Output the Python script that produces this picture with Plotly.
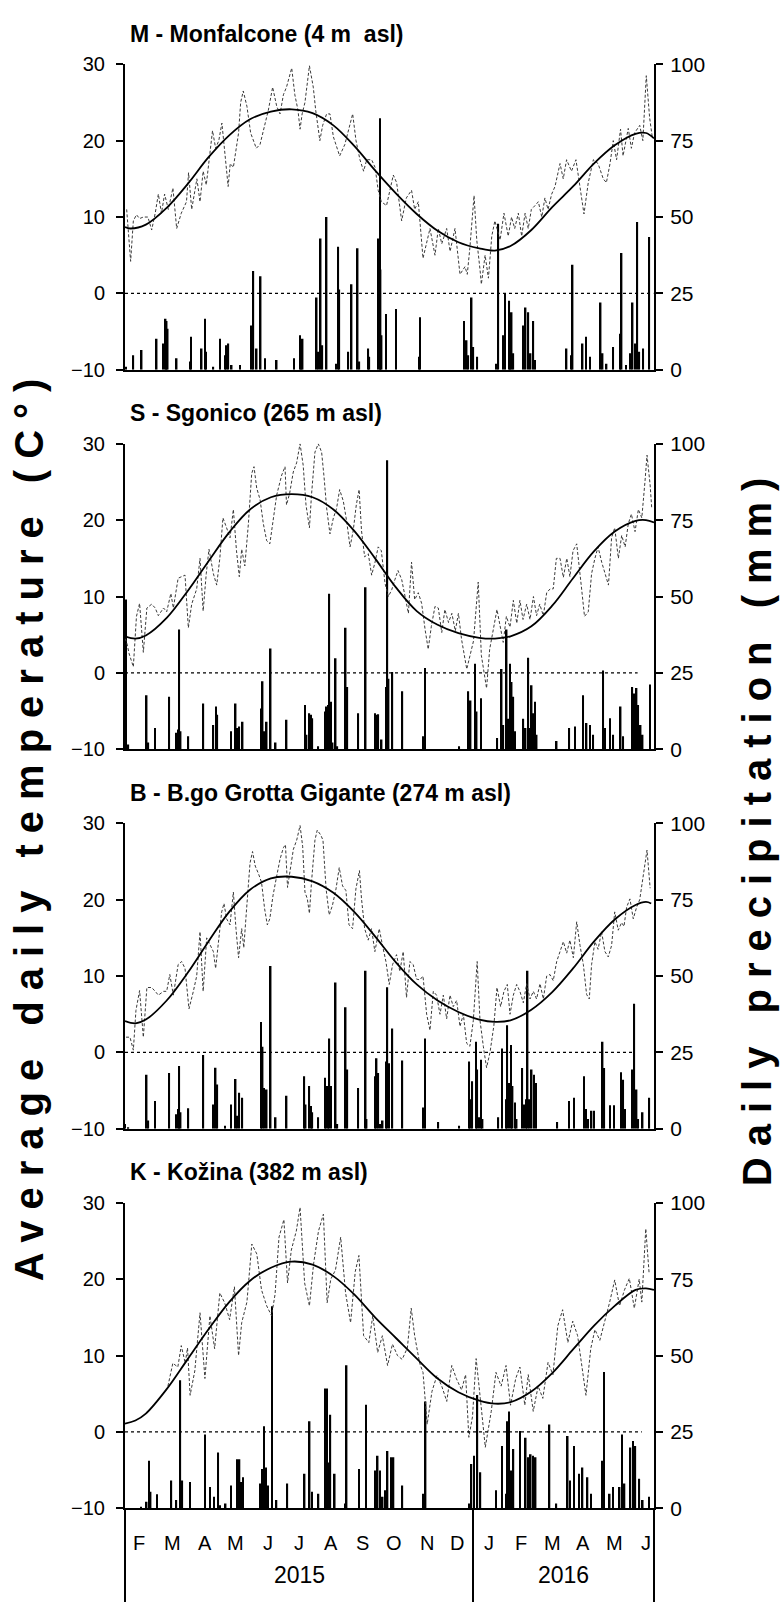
import plotly.graph_objects as go

W, H = 780, 1613
FONT = "Liberation Sans, Arial, sans-serif"

# x values = days since 2015-02-01
X_END = 507.7
JAN1_2016 = 334

MONTH_LABELS = ["F", "M", "A", "M", "J", "J", "A", "S", "O", "N", "D", "J", "F", "M", "A", "M", "J"]
MONTH_POS = [13, 46, 77, 106, 137, 167, 198, 228, 258, 290, 319, 349, 380, 410, 440, 470, 500]
YEAR_LABELS = ["2015", "2016"]
YEAR_POS = [167, 421]

TITLES = ["M - Monfalcone (4 m  asl)", "S - Sgonico (265 m asl)",
          "B - B.go Grotta Gigante (274 m asl)", "K - Kožina (382 m asl)"]

TEMP_TICKS = [-10, 0, 10, 20, 30]
PREC_TICKS = [0, 25, 50, 75, 100]

# ---------------- Monfalcone ----------------
M_TEMP = [(1.6,11),(5.4,4.2),(8,9.5),(11,10.3),(14,9.8),(17.6,10),(22,10),(25.6,8.3),(29,10.5),(32,13),(35,10.5),(38,13),
          (41.6,11),(46,13.8),(49.6,8.5),(54,10.5),(59,12),(61,15.8),(64,11),(69,15),(72,12),(75,16),(78,14.2),(82,19),
          (84,21.3),(87,19),(90,20),(93,22.3),(96,18),(99,14),(101,17),(104,16.5),(109,21),(111,25),(113.5,26.5),(117,24.5),
          (120.6,21),(126,19),(129.6,19.5),(133,21.5),(137.6,24),(141.7,27),(145.6,24.5),(148.8,23.5),(152,26),(155,27),
          (160,29.5),(163,26),(166,24),(168,21.5),(170,23.5),(172.7,25),(177,29.8),(180.7,27),(183,24),(187,20),(189.7,22),
          (193.5,23.5),(196.7,23.5),(200,20.5),(206,18),(211,19.5),(214,21),(218.5,23.5),(221.7,20),(225.5,17.5),(229,16),
          (232,17.5),(236.7,17.5),(240,16.5),(243,13.5),(246,12),(251,11.5),(257.5,15.5),(260.7,14.5),(265.5,9.5),(270,12.5),
          (275,13.5),(278,11),(281.5,12),(286,4.6),(292.7,8.5),(297.5,5),(300.7,8.5),(304,6.5),(308.7,8.5),(312,5.5),
          (316.7,8.5),(321.5,2.5),(326.3,3.5),(328.5,2.5),(331,6),(335,12.8),(337.6,7),(340.8,3),(342,1.2),(345.6,5),
          (348.8,2),(352,7.5),(355,9.5),(360,7),(363.7,10.5),(367.8,7.5),(371,10),(374,8.5),(377.5,10.5),(380.7,7.5),
          (384,10.5),(387,8.5),(390,11),(393.5,11.5),(396.7,12),(400,10),(403,12.5),(406,11),(409.5,13),(412.7,14),
          (417.5,17),(420.6,15),(423.8,17.5),(428.5,16),(432.8,17.5),(436.6,14),(440.5,10.4),(444.6,14.5),(449.5,17.5),
          (454,17),(459,15),(462,14.5),(465.5,17),(468.6,20),(471.8,17.5),(475.6,21.5),(478,18),(483,21.6),(486,19),
          (489,21),(494,22),(497,20),(500.3,28.5),(503.5,23),(506,20.5)]
M_FIT = [(0,8.7),(5,8.5),(20,9.0),(40,11.2),(60,14.3),(80,17.8),(100,20.7),(120,22.8),(140,23.8),(160,24.1),(180,23.6),
         (200,22.0),(220,19.3),(240,16.1),(260,13.1),(280,10.4),(300,8.2),(320,6.7),(340,5.9),(355,5.6),(370,6.2),
         (390,8.3),(410,11.3),(430,14.0),(450,17.0),(470,19.4),(490,20.9),(500,21.0),(507.7,20.3)]
M_PREC = [(1,1),(8,4.8),(16,6.5),(30.4,10.2),(36.8,8.6),(39,16.7),(40,16),(41,13.4),(49.6,3.8),(62.4,2.7),(63.3,10.8),
          (73.6,7),(76.8,16.7),(77.7,5.9),(84.8,1),(91.2,10.2),(96,4.8),(97.6,8),(99.2,8.6),(102.4,1.6),(110.4,1.6),
          (121.6,14.5),(123.2,32.3),(126.4,7),(130.2,30.6),(134.4,3.8),(145.6,3.2),(162.2,3.8),(168,11.3),(169.5,4.8),
          (170.5,10.2),(184,23.7),(185.5,5.9),(187.8,43),(189.4,8),(193.5,50),(202.5,2),(204.7,40.3),(205.7,26.3),
          (214.3,5.9),(217.5,28),(223.3,39.8),(224.9,2.7),(233.5,7),(234.5,4.3),(243.1,43),(244.7,82.3),(245.3,32.8),
          (246.3,11.3),(250.5,18.3),(260.1,19.9),(282.5,4.3),(283.1,17.2),(325.3,16),(327.9,9.7),(329.5,4.8),(332.7,23.7),
          (334.3,7.5),(338.1,4.3),(356.7,2),(358.3,47.8),(363.1,11.3),(364.7,25),(368.8,22.6),(370.1,8.6),(371.1,18.8),
          (372.7,5.4),(382.3,14.5),(384.5,20.4),(387.1,18.8),(389.3,5.4),(391.9,16),(393.5,3.2),(423.8,7),(428.6,4.8),
          (429.6,34.4),(439.2,8.6),(442.4,10.8),(446.2,4.3),(456.5,22),(458.4,5.4),(462.2,2),(468.6,7.5),(475,11.8),
          (476.6,38.2),(480.8,1.6),(485.3,5.4),(487.2,22),(489.4,8.6),(491.7,48.4),(493.6,5.9),(497.4,7),(503.2,43.5)]

# ---------------- Sgonico ----------------
S_TEMP = [(0,4.5),(1.6,4),(4,2.5),(8,0.8),(11,7.4),(14,9.1),(17.6,2.7),(21,8.5),(25.6,9),(29,8.5),(32,7.5),(37,8.5),(40,8),
          (44,10.4),(46.4,8.5),(51,12.4),(57.6,12.8),(60.8,5.9),(64,9),(68.8,11),(72,15),(75,8.1),(78,13),(80.6,16.2),
          (84.8,13),(88,11.5),(91,15),(94,20.3),(97.5,19),(100.8,17.7),(104,21.4),(107,16),(109.7,12.6),(112,16.2),(115,14),
          (118.4,19.5),(121.6,26.1),(123.8,27),(126.4,24.2),(129.6,22.7),(132.8,19.5),(136,17.3),(139,16.9),(142.4,20.3),
          (145.6,23.3),(150.4,25.9),(153.6,27),(155,22),(158,23.5),(161.5,26.3),(164.7,27.5),(168,30),(171,27.2),(173.7,22),
          (177,19),(179,23.3),(182.3,28.9),(185.5,30),(188.7,28.9),(191,25.7),(193.5,21.6),(196.7,18.2),(200,20.3),(203,21.5),
          (206,24),(209.5,22.5),(212.7,19.9),(216,16.5),(219,18.6),(222,22),(224.7,24),(227,18.6),(230,15.2),(233.5,15.6),
          (236.7,12.8),(240,14.5),(243,16.5),(246,16),(249.6,11.7),(252.8,10),(256,10.9),(259,12.2),(262,13.4),(265.6,12.2),
          (268.7,10),(272,7.8),(275,14.5),(278,9.6),(281.5,10.5),(284.7,9.1),(288,5.7),(291,3.1),(294,6.1),(297.5,8.7),
          (300.7,8.5),(304,5.3),(307,8.3),(310.5,6.6),(313.7,7.8),(317,5.5),(320,7.8),(323,4.4),(328,0.5),(331,2.3),
          (334.5,4.2),(339,11.9),(342,2.3),(347,-2),(350,3.1),(357,8.3),(360,6),(363,4),(366,7.4),(369.5,6),(372.7,9.5),
          (376,6.5),(379,9.5),(382,7),(385.5,9),(388.7,7),(392,10),(395,7.5),(398,9),(401.5,7.5),(404.7,10.5),(408,11),
          (411,11),(414,15),(417.5,15),(420.7,12.5),(424,15),(427,12.6),(430,16),(433.5,16.9),(438,11.3),(441,7.4),
          (444.6,8),(447.8,13),(451,15),(454,16.5),(457.5,14.5),(460.7,13),(464,11.5),(467,17.7),(470,19),(473.5,15),
          (476.7,18),(480,16.5),(483,19.5),(486,20.8),(489.5,18.5),(492.7,21.4),(496,20.3),(499,25),(501,28.5),(504,24.6),
          (505.5,21.6)]
S_FIT = [(0,4.8),(10,4.5),(20,4.9),(40,7.2),(60,10.7),(80,14.6),(100,18.4),(120,21.4),(140,23.0),(160,23.4),(180,23.0),
         (200,21.4),(220,18.6),(240,15.0),(260,11.2),(280,8.1),(300,6.3),(320,5.2),(340,4.6),(355,4.5),(370,4.8),
         (390,6.1),(410,8.8),(430,12.4),(450,15.9),(470,18.5),(490,19.9),(500,20.0),(507.7,19.7)]
S_PREC = [(1,49),(3.2,1.6),(20.8,17.7),(22.4,2.2),(28.8,7),(42.5,17.2),(48.9,5.4),(51.2,6.5),(52.1,39.2),(53.4,5.9),
          (60.8,4.3),(75.2,15),(84.8,8),(87.3,14),(88.6,11.3),(101.7,5.9),(106.2,15),(107.8,7),(109.7,7.5),(112.9,9),
          (130.5,13.4),(132.1,22.3),(133.4,5.9),(136,9),(139.8,33),(144.6,2.2),(155.1,9.7),(172.7,14.5),(174.3,4.8),
          (176.9,11.8),(178.5,11.3),(179.8,10.2),(185.5,1),(191.9,12.4),(193.5,14),(195.1,14.5),(196.1,50.9),(197.7,15.6),
          (199.3,2.2),(202.2,29.8),(203.8,1),(211.8,39.8),(213.4,20.4),(223.9,11.8),(231,53),(239.9,11.8),(241.5,11.3),
          (243.1,11.5),(246.3,3.2),(250.5,20.4),(251.8,94.6),(253,23.1),(256.6,25.3),(266.2,19),(286.3,4.3),(287.9,26.6),
          (320.8,1),(329.5,19),(331.2,8.6),(331.7,16),(335.8,28),(337.5,12.4),(341.6,16.7),(357.3,3.7),(361.5,26.3),
          (363.1,8),(366.3,39.2),(367.9,10),(369.5,28),(371.1,22),(372.7,17.2),(374.3,5.9),(382.3,10),(384.5,7),(387.1,30),
          (388.7,7),(390.3,21),(391.9,11.8),(393.5,15.6),(395.1,4.8),(414.3,2.7),(426.4,7),(431.8,7.5),(439.8,17.7),
          (443,8.6),(446.2,8),(449.4,4.8),(459,25.8),(460.6,7),(465.4,10.2),(468.6,4.8),(475.7,14),(478.2,4.3),
          (486.9,20.4),(488.8,18.3),(491,20.1),(492.6,14.5),(494.9,8),(496.8,4.8),(503.8,21.2)]

# ---------------- Borgo Grotta Gigante ----------------
B_TEMP = [(1,2),(4.8,2),(8,0.3),(10.5,5.5),(14,8.1),(17.6,2),(21,8.5),(25.6,8.5),(29,8),(32,7.5),(37,8),(40,8),(43,10.2),
          (46.4,7.5),(51,11.5),(54.4,11.9),(57.6,11),(61.4,5.7),(65.6,8),(68.8,10),(72,15.8),(75,8),(78.4,15),(81.6,14.1),
          (84.8,13.2),(87,11),(89.6,14),(92.8,18.4),(95,19.5),(97.5,17.5),(100.8,16.7),(104,21),(106.5,16.2),(109,12.4),
          (112,16.2),(114,13.7),(116.7,18.8),(120,24.8),(122.4,26.3),(125,24.4),(127.8,23.5),(131,22.3),(134,18.8),
          (136.6,16.7),(139,17.5),(142,20.5),(145.6,23.1),(148.8,25.3),(152,26.8),(154,27.2),(156,21.6),(159,24.4),
          (161.6,26.6),(164.8,27.8),(168,29.7),(170.5,27),(172.7,21),(175,20.1),(177,18.2),(179,22.3),(182.3,27.8),
          (184.5,29.1),(187.7,28.5),(190,27.8),(193,21.4),(196,18),(199,19.2),(202.5,21.4),(205.6,24.2),(208.8,21.8),
          (212,21.2),(215,16.7),(218.4,16.2),(221.6,21.4),(225,23.8),(227,20.1),(230,16.2),(233.4,14.7),(236.6,16.2),
          (239.8,13.2),(244,16.2),(247,14.1),(250.4,11.9),(253.6,8.9),(256.8,11.5),(260.6,12.8),(263.8,10.6),(267,13.2),
          (270.2,7.2),(273.4,11.9),(276.6,11.5),(279.8,9.6),(283,9.5),(286,10),(289.5,5),(292.7,2.9),(295.9,8),(299,7.5),
          (302.3,5),(305.5,7.5),(308.7,4.4),(311.9,7.5),(315,6),(318.3,6.8),(321.5,3.4),(324.7,5),(327.9,1.2),(331,0.8),
          (334.3,4.2),(338,11.9),(340.7,4.2),(343.9,0.8),(347,-2),(350.3,0),(354,3.5),(357,8.5),(360.5,6),(363.7,8),
          (366.9,8.9),(369.5,5),(372.7,7.5),(375.9,8.9),(379,8),(382.3,6.5),(385.5,9),(388.7,7),(391.9,8),(395,7),
          (398.3,9),(401.5,7),(404.7,10),(407.9,10.2),(411,9.4),(414.3,11.9),(417.5,13.2),(420.7,14.5),(423.9,13),
          (427,14.7),(430.3,12.4),(433.5,17.1),(436.7,14),(439.9,11.5),(443,7.6),(445.6,7),(447.8,11.5),(451,14.5),
          (454,13.5),(457.4,15.8),(460.6,13.2),(463.8,12.5),(467,14),(470,18.4),(473.4,16),(476.6,17),(478.9,16.5),
          (481.4,19),(484.6,20.1),(487.8,17.5),(491,19),(494,20),(501,26.5),(504,21.5)]
B_FIT = [(0,4.1),(10,3.8),(20,4.3),(40,6.8),(60,10.4),(80,14.5),(100,18.4),(120,21.3),(140,22.8),(160,23.0),(180,22.4),
         (200,20.9),(220,18.4),(240,15.2),(260,11.8),(280,8.9),(300,6.8),(320,5.3),(340,4.3),(355,4.0),(370,4.2),
         (390,5.6),(410,7.9),(430,11.0),(450,14.5),(470,17.4),(490,19.3),(500,19.7),(505,19.5)]
B_PREC = [(0,1.6),(3.2,0.5),(20.8,17.7),(22.4,2.7),(28.8,9.1),(42.5,18.3),(48.9,4.8),(51.2,6.5),(52.1,20.6),(53.4,5.4),
          (60.8,6.7),(75.2,24.2),(84.8,8),(87,20),(88.6,14.5),(96,1),(101.7,8),(106.2,16.3),(107.8,4.3),(109.7,11.8),
          (112.6,10.2),(130.5,35),(132.1,26.9),(133.4,13.4),(136,12.9),(139.8,53.3),(144.6,3.8),(155.1,10.8),(172.1,17.2),
          (173.4,8),(176.9,14),(178.5,7.5),(179.8,5.4),(185.5,3.8),(191.9,16.7),(193.5,14),(195.1,14),(196.1,29.6),
          (197.7,14),(202.2,47.9),(203.8,1.6),(211.8,39.8),(213.4,19.4),(223.9,13.4),(231,51.7),(231.9,3.2),(239.9,17.2),
          (241.5,23.1),(243.1,18.3),(244.7,1.6),(247.3,2.7),(250.5,22),(251.8,46.3),(253.4,21.5),(256.6,32.8),(266.2,22.4),
          (286.3,7),(287.9,29.6),(300.7,2.2),(320.8,1),(330.4,22),(331.7,9.7),(333.3,15.6),(336.8,28.5),(338.1,19.4),
          (340,3.8),(341.6,22.6),(343.2,3.2),(358.3,3.8),(361.8,26.3),(365.6,9.7),(366.9,33.9),(368.8,15),(370.4,27.4),
          (372,14),(374.3,8.6),(375.9,3.2),(381.3,19.9),(383.2,8),(384.8,9.7),(386.4,51.7),(388,9.7),(390.3,19.4),
          (392.5,17.7),(394.4,15),(414.9,2.2),(426.1,9.1),(430.9,10.2),(440.5,17.2),(442.4,6.5),(444.6,3.2),(447.8,5.9),
          (450.1,5.9),(458.4,28.5),(460,19.9),(465.4,7.7),(469.3,7.7),(476,18.5),(478.2,16.1),(479.8,6.5),(486.9,19.4),
          (488.8,40.9),(491,12.9),(492.6,3.2),(496.8,5.4),(503.2,10.2)]

# ---------------- Kozina ----------------
K_TEMP = [(41.2,6),(45.9,9),(50.7,8.5),(54,11.3),(57.8,9),(60,11),(62.5,4.8),(67,8),(72,15.6),(76.7,7),(81.5,15.2),
          (86,10.9),(91,18.2),(95.7,16.9),(100.4,14.7),(105,19),(109,10),(112,14.3),(117,17),(121.7,24.6),(126.5,23.3),
          (131,18.6),(136,16.5),(140.7,15.2),(144,18),(147.8,25.5),(152.5,27.8),(156,19.5),(159.6,23.8),(164.4,26.3),
          (168,29.4),(172.4,19.5),(177,16.5),(181,22),(185.7,26.3),(190.4,28.5),(194,16.9),(197.5,20),(202,21.2),(207,25.5),
          (211.7,18.2),(216.5,14.3),(221,21),(224.5,23.1),(229,12.6),(234,11.7),(237.8,15.2),(242.5,10.4),(247,12.6),
          (252,8.7),(256.7,11.5),(261.5,10),(266,9.5),(271,11),(274.7,16.2),(278,12.6),(282.8,9),(286,7.8),(290,1),
          (294.6,5.3),(299.4,7.4),(304,6),(308.8,4),(313.6,8.7),(318,7),(323,5.5),(326.9,7.5),(330,-0.7),(333.5,2),(337,9.6),
          (341,4.4),(345.8,-2),(351.5,2.7),(356,7.8),(361,6),(365.7,8.7),(370,3.5),(375,7),(379,8.5),(383.7,3.5),(387,7.5),
          (391.8,2.7),(396.5,6),(401,4.4),(406,9.1),(410.7,7.5),(415.4,13.9),(420,16),(425,11.7),(429.7,14.5),(434.4,12.6),
          (439,7.8),(442.4,4.8),(447,10.9),(451,13.4),(455.7,12),(460.4,14.3),(465,16.9),(470,19.9),(474.6,16.5),
          (479.4,18.6),(484,20.1),(488.8,16.2),(493.5,20),(496,17),(499.8,26.6),(503,20.8)]
K_FIT = [(0,1.1),(10,1.5),(20,2.4),(40,5.6),(60,9.5),(80,13.4),(100,17.0),(120,19.8),(140,21.5),(160,22.3),(180,21.9),
         (200,20.4),(220,18.0),(240,15.0),(260,12.3),(280,9.6),(300,7.0),(320,5.2),(340,4.1),(355,3.7),(370,3.9),
         (390,5.3),(410,7.7),(430,10.8),(450,13.9),(470,16.5),(490,18.6),(500,18.8),(507.7,18.6)]
K_PREC = [(15.2,0.5),(20.8,2.2),(23.2,15.6),(24.6,5.4),(30.8,4.6),(44.5,9.1),(49.3,2.7),(53.1,41.9),(55,9.1),(62.5,8.6),
          (76.7,24.2),(81.5,7),(85.3,3.8),(89.5,18.3),(91,1),(96.6,1.6),(101.8,7.5),(107.5,16.1),(109.9,16.1),(111.3,8.6),
          (113.2,10.2),(129.8,8.1),(132.2,12.9),(133.6,26.9),(135.5,13.4),(137.4,7.5),(141.2,66.1),(145.4,2.7),(155.8,8.1),
          (172.4,11.3),(177.2,28.5),(179.5,5.4),(185.7,4.8),(191.8,39.2),(193.7,39.2),(195.2,15),(197.1,30.6),(201.3,11.3),
          (211.7,1.6),(212.7,46.8),(224.5,12.9),(231.2,33.9),(240.2,12.4),(242.5,17.2),(244.9,12.4),(247.3,3.8),(249.6,5.9),
          (252,18.8),(255.3,16.7),(257.7,16.7),(266.2,7.5),(286.1,4.8),(288.5,35),(330.2,1.6),(332.5,14.5),(334.9,17.2),
          (338.2,37.1),(341.1,11.8),(356.2,5.9),(361.9,20.4),(365.7,4.8),(367.1,28.5),(368.5,31.7),(370.4,12.4),
          (372.8,19.4),(379,25.3),(384.6,23.1),(387,16.7),(389.4,17.7),(391.8,17.2),(394.1,16.7),(407.4,27.4),(414,1.6),
          (424.9,23.7),(427.3,9.1),(431.1,20.4),(435.8,11.3),(439.1,13.4),(443.9,10.2),(447.2,4.8),(458.1,15.6),
          (459.5,44.6),(465.2,4.8),(468.5,7),(474.7,7),(477,24.2),(479.4,8.1),(485.1,19.9),(487.4,22),(489.8,20.4),
          (493.6,9.7),(496.9,2.7),(503.1,3.8)]

ZERO_LINE_END = [507, 492, 488, 496]

TEMPS = [M_TEMP, S_TEMP, B_TEMP, K_TEMP]
FITS = [M_FIT, S_FIT, B_FIT, K_FIT]
PRECS = [M_PREC, S_PREC, B_PREC, K_PREC]

# ---------------- layout geometry (pixels) ----------------
X_L, X_R = 125, 654
PANEL_TOPS = [53, 438, 823, 1208]
PANEL_H = 310


def px_x(p):
    return p / W


def px_y(p):
    return 1 - p / H


fig = go.Figure()
layout = dict(width=W, height=H, margin=dict(l=0, r=0, t=0, b=0), autosize=False,
              paper_bgcolor="white", plot_bgcolor="rgba(0,0,0,0)", showlegend=False,
              font=dict(family=FONT, color="black"), barmode="overlay")
shapes, annotations = [], []

for i in range(4):
    xn = "x" if i == 0 else f"x{i+1}"
    xk = "xaxis" if i == 0 else f"xaxis{i+1}"
    yp_n = f"y{2*i+1}" if i > 0 else "y"
    yp_k = "yaxis" if i == 0 else f"yaxis{2*i+1}"
    yt_n = f"y{2*i+2}"
    yt_k = f"yaxis{2*i+2}"
    top = PANEL_TOPS[i]
    dom_y = [px_y(top + PANEL_H), px_y(top)]

    layout[xk] = dict(domain=[px_x(X_L), px_x(X_R)], range=[0, X_END], anchor=yp_n,
                      showline=True, linewidth=2, linecolor="black", ticks="",
                      showticklabels=False, showgrid=False, zeroline=False, fixedrange=True)
    layout[yp_k] = dict(domain=dom_y, range=[0, 100], anchor=xn, side="right",
                        tickvals=PREC_TICKS, ticks="outside", ticklen=7, tickwidth=1.5,
                        tickcolor="black", showline=True, linewidth=2, linecolor="black",
                        showgrid=False, zeroline=False, tickfont=dict(size=21, family=FONT),
                        ticklabelstandoff=3)
    layout[yt_k] = dict(domain=dom_y, range=[-10, 30], anchor=xn, overlaying=yp_n, side="left",
                        tickvals=TEMP_TICKS, ticks="outside", ticklen=7, tickwidth=1.5,
                        tickcolor="black", showline=True, linewidth=2, linecolor="black",
                        showgrid=False, zeroline=False, tickfont=dict(size=20, family=FONT),
                        ticklabelstandoff=7)

    pd_, pv_ = zip(*PRECS[i])
    fig.add_trace(go.Bar(x=list(pd_), y=list(pv_), width=1.5, marker=dict(color="black", line=dict(width=0)),
                         xaxis=xn, yaxis=yp_n, hoverinfo="skip"))
    td, tv = zip(*TEMPS[i])
    fig.add_trace(go.Scatter(x=list(td), y=list(tv), mode="lines",
                             line=dict(color="#3a3a3a", width=1, dash="3px,2px"),
                             xaxis=xn, yaxis=yt_n, hoverinfo="skip"))
    fd, fv = zip(*FITS[i])
    fig.add_trace(go.Scatter(x=list(fd), y=list(fv), mode="lines",
                             line=dict(color="black", width=1.8, shape="spline", smoothing=1.0),
                             xaxis=xn, yaxis=yt_n, hoverinfo="skip"))

    shapes.append(dict(type="line", xref=xn, yref=yt_n, x0=0, x1=ZERO_LINE_END[i], y0=0, y1=0,
                       line=dict(color="black", width=1.2, dash="dot")))
    annotations.append(dict(text=f"<b>{TITLES[i]}</b>", xref="paper", yref="paper",
                            x=px_x(128), y=px_y(top - 31), xanchor="left", yanchor="middle",
                            showarrow=False, font=dict(size=23, family=FONT, color="black")))

# bottom date axis box
bottom = PANEL_TOPS[3] + PANEL_H
for xp in (X_L, X_R):
    shapes.append(dict(type="line", xref="paper", yref="paper", x0=px_x(xp), x1=px_x(xp),
                       y0=px_y(bottom), y1=0, line=dict(color="black", width=2)))
shapes.append(dict(type="line", xref="x4", yref="paper", x0=JAN1_2016, x1=JAN1_2016,
                   y0=px_y(bottom), y1=0, line=dict(color="black", width=2)))
for lab, pos in zip(MONTH_LABELS, MONTH_POS):
    annotations.append(dict(text=lab, xref="x4", yref="paper", x=pos, y=px_y(1553),
                            xanchor="center", yanchor="middle", showarrow=False,
                            font=dict(size=20, family=FONT, color="black")))
for lab, pos in zip(YEAR_LABELS, YEAR_POS):
    annotations.append(dict(text=lab, xref="x4", yref="paper", x=pos, y=px_y(1586),
                            xanchor="center", yanchor="middle", showarrow=False,
                            font=dict(size=23, family=FONT, color="black")))

# axis titles
annotations.append(dict(text='<b><span style="letter-spacing:11px">Average daily temperature (C°)</span></b>',
                        xref="paper", yref="paper", x=px_x(29), y=px_y(824), xanchor="center",
                        yanchor="middle", textangle=-90, showarrow=False,
                        font=dict(size=40, family=FONT, color="black")))
annotations.append(dict(text='<b><span style="letter-spacing:11px">Daily precipitation (mm)</span></b>',
                        xref="paper", yref="paper", x=px_x(757), y=px_y(826), xanchor="center",
                        yanchor="middle", textangle=-90, showarrow=False,
                        font=dict(size=40, family=FONT, color="black")))

layout["shapes"] = shapes
layout["annotations"] = annotations
fig.update_layout(**layout)
fig.write_html("out.html")
